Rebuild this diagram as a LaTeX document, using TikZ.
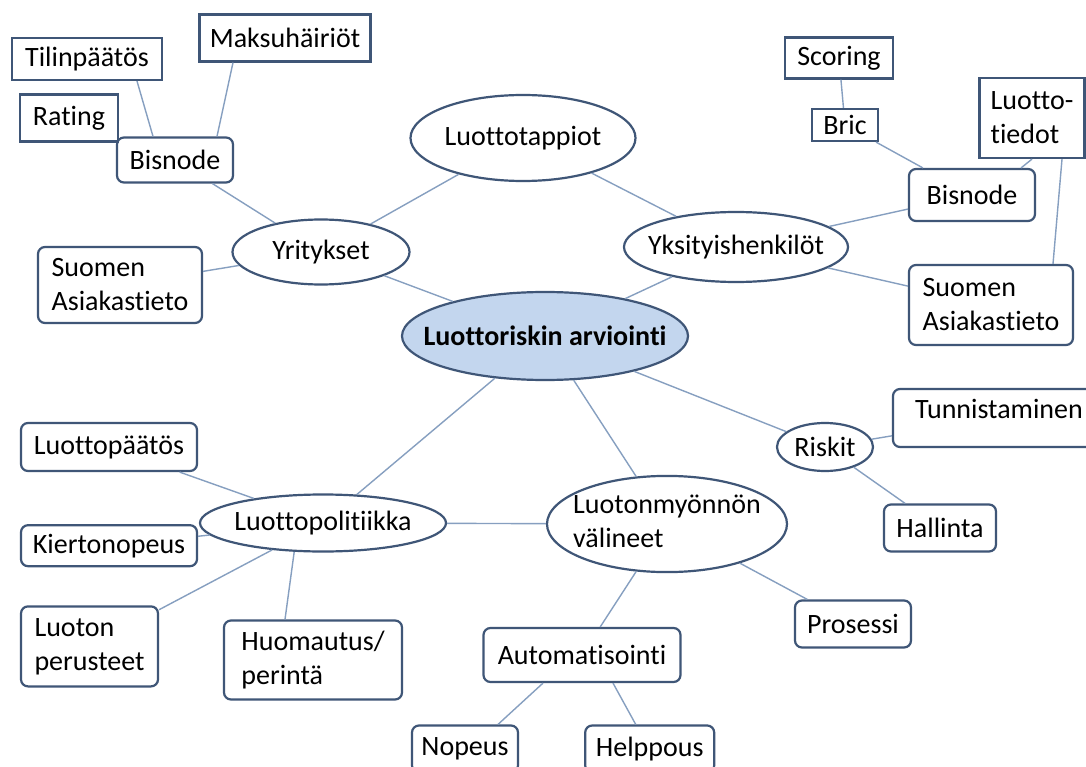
\documentclass[tikz,border=0pt]{standalone}
\usepackage{fontspec}
\setmainfont[Ligatures=NoCommon]{Carlito}
\usepackage{tikz}
\usetikzlibrary{positioning,shapes.geometric}
\usepackage{xcolor}
\definecolor{nodeline}{HTML}{3F5677}
\definecolor{linkline}{HTML}{869FC0}
\definecolor{hubfill}{HTML}{C3D6EE}
\newcommand{\ellipsetext}[1]{\makebox[0pt]{#1}}

\begin{document}
\begin{tikzpicture}[
      x=1pt, y=-1pt,
      every node/.style={font=\fontsize{28}{34}\selectfont, text=black, inner sep=0pt,
        line width=2.2pt, draw=nodeline, fill=white},
      hub/.style={ellipse},
      sqbox/.style={rectangle, align=left},
      rbox/.style={rectangle, rounded corners=7pt, align=left},
      dims/.style 2 args={minimum width=#1pt, minimum height=#2pt},
      link/.style={draw=linkline, line width=1.4pt}
    ]
      \path[use as bounding box, fill=white] (0,0) rectangle (1086,767);
      \clip (0,0) rectangle (1086,767);

      % hubs
      \node[hub, dims={286}{88}, fill=hubfill, font=\fontsize{28}{34}\selectfont\bfseries]
        (arviointi) at (545,336) {\ellipsetext{Luottoriskin arviointi}};
      \node[hub, dims={225}{86}] (luottotappiot) at (523,138) {\ellipsetext{Luottotappiot}};
      \node[hub, dims={177}{65}] (yritykset) at (321,252) {\ellipsetext{Yritykset}};
      \node[hub, dims={224}{70}] (yksityis) at (736,247) {\ellipsetext{Yksityishenkilöt}};
      \node[hub, dims={96}{48}] (riskit) at (825,447) {\ellipsetext{Riskit}};
      \node[hub, dims={240}{85}] (valineet) at (667,524)
        {\ellipsetext{\begin{tabular}{@{}l@{}}Luotonmyönnön\\välineet\end{tabular}}};
      \node[hub, dims={246}{57}] (politiikka) at (323,523) {\ellipsetext{Luottopolitiikka}};

      % yritykset
      \node[rbox, dims={116}{45}] (bisnodeL) at (175,160) {Bisnode};
      \node[sqbox, dims={150}{42}] (tilinpaatos) at (87,59) {Tilinpäätös};
      \node[sqbox, dims={171}{47}] (maksuhairiot) at (285,38) {Maksuhäiriöt};
      \node[sqbox, dims={98}{47}] (rating) at (69,118) {Rating};
      \node[rbox, dims={164}{76}] (suomenL) at (120,285) {Suomen\\Asiakastieto};

      % yksityishenkilot
      \node[sqbox, dims={108}{41}] (scoring) at (839,58) {Scoring};
      \node[sqbox, dims={66}{32}] (bric) at (845,125) {Bric};
      \node[sqbox, dims={105}{80}] (luottotiedot) at (1032,118) {Luotto-\\tiedot};
      \node[rbox, dims={126}{52}] (bisnodeR) at (972,195) {Bisnode};
      \node[rbox, dims={164}{80}] (suomenR) at (991,305) {Suomen\\Asiakastieto};

      % riskit
      \node[rbox, dims={212}{58}, text depth=18pt] (tunnistaminen) at (999,418) {Tunnistaminen};
      \node[rbox, dims={112}{47}] (hallinta) at (940,528) {Hallinta};

      % valineet
      \node[rbox, dims={116}{47}] (prosessi) at (853,624) {Prosessi};
      \node[rbox, dims={197}{54}] (automatisointi) at (582,655) {Automatisointi};
      \node[rbox, dims={106}{47}] (nopeus) at (465,749) {Nopeus};
      \node[rbox, dims={129}{47}, right=65pt of nopeus] (helppous) {Helppous};

      % politiikka
      \node[rbox, dims={176}{48}] (luottopaatos) at (109,447) {Luottopäätös};
      \node[rbox, dims={176}{41}, below=52pt of luottopaatos] (kiertonopeus) {Kiertonopeus};
      \node[rbox, dims={137}{80}, below=38pt of kiertonopeus.south west, anchor=north west]
        (perusteet) {Luoton\\perusteet};
      \node[rbox, dims={178}{79}] (huomautus) at (313,660) {Huomautus/\\perintä};

      % connectors
      \draw[link] ([xshift=50pt]tilinpaatos.south) -- ([xshift=-22pt]bisnodeL.north);
      \draw[link] ([xshift=-52pt]maksuhairiot.south) -- ([xshift=42pt]bisnodeL.north);
      \draw[link] (bisnodeL) -- (yritykset);
      \draw[link] (suomenL) -- (yritykset);
      \draw[link] (yritykset) -- (luottotappiot);
      \draw[link] (yritykset) -- (arviointi);
      \draw[link] (luottotappiot) -- (yksityis);
      \draw[link] (yksityis) -- (arviointi);
      \draw[link] (yksityis) -- (bisnodeR);
      \draw[link] (yksityis) -- (suomenR);
      \draw[link] (scoring) -- (bric);
      \draw[link] (bric) -- (bisnodeR);
      \draw[link] (luottotiedot.south) -- ([xshift=-15pt]bisnodeR.north east);
      \draw[link] ([xshift=30pt]luottotiedot.south) -- ([xshift=62pt]suomenR.north);
      \draw[link] (arviointi) -- (riskit);
      \draw[link] (riskit) -- (tunnistaminen);
      \draw[link] (riskit) -- (hallinta);
      \draw[link] (arviointi) -- (valineet);
      \draw[link] (arviointi) -- (politiikka);
      \draw[link] (politiikka) -- (valineet);
      \draw[link] (valineet) -- (prosessi);
      \draw[link] (valineet) -- (automatisointi);
      \draw[link] ([xshift=-39pt]automatisointi.south) -- ([xshift=33pt]nopeus.north);
      \draw[link] ([xshift=31pt]automatisointi.south) -- ([xshift=-14pt]helppous.north);
      \draw[link] (politiikka) -- (luottopaatos);
      \draw[link] (politiikka) -- (kiertonopeus);
      \draw[link] (politiikka) -- (perusteet);
      \draw[link] ([xshift=-28pt]huomautus.north) -- (politiikka.225);
    \end{tikzpicture}
\end{document}
